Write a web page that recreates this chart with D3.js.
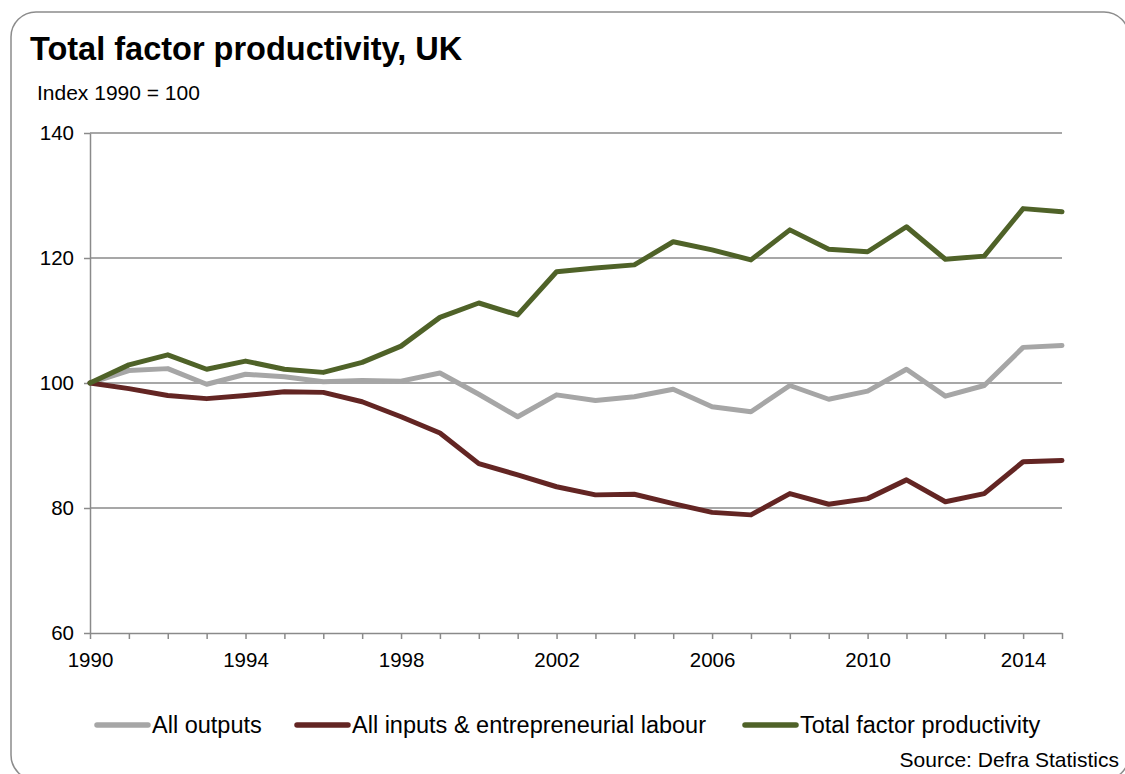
<!DOCTYPE html>
<html>
<head>
<meta charset="utf-8">
<script src="https://cdn.jsdelivr.net/npm/d3@7"></script>
<style>
  body { margin: 0; background: #fff; }
  svg { display: block; font-family: "Liberation Sans", Arial, sans-serif; }
</style>
</head>
<body>
<div id="chart"></div>
<script>
// Data (index, 1990 = 100)
var years = d3.range(1990, 2016);
var allOutputs = [100, 102.0, 102.3, 99.8, 101.4, 101.0, 100.2, 100.4, 100.3, 101.6,
  98.2, 94.6, 98.1, 97.2, 97.8, 99.0, 96.2, 95.4, 99.6, 97.4,
  98.7, 102.2, 97.9, 99.6, 105.7, 106.0];
var allInputs = [100, 99.1, 98.0, 97.5, 98.0, 98.6, 98.5, 97.0, 94.6, 92.0,
  87.1, 85.3, 83.4, 82.1, 82.2, 80.7, 79.3, 78.9, 82.3, 80.6,
  81.5, 84.5, 81.0, 82.3, 87.4, 87.6];
var tfp = [100, 102.9, 104.5, 102.2, 103.5, 102.2, 101.7, 103.3, 105.9, 110.5,
  112.8, 110.9, 117.8, 118.4, 118.9, 122.6, 121.3, 119.7, 124.5, 121.4,
  121.0, 125.0, 119.8, 120.3, 127.9, 127.4];

var seriesNames = ["All outputs", "All inputs & entrepreneurial labour", "Total factor productivity"];
var seriesColors = ["#a6a6a6", "#632523", "#4f6228"];
var yTicks = [60, 80, 100, 120, 140];
var xLabelYears = [1990, 1994, 1998, 2002, 2006, 2010, 2014];

// Page size
var width = 1125;
var height = 774;

// Plot area
var plotLeft = 90;
var plotRight = 1062;
var plotTop = 133;
var plotBottom = 633;

var axisColor = "#8a8a8a";

var svg = d3.select("#chart")
  .append("svg")
  .attr("width", width)
  .attr("height", height);

// Rounded frame, runs off the right and bottom edge
svg.append("rect")
  .attr("x", 11)
  .attr("y", 12)
  .attr("width", 1118)
  .attr("height", 768)
  .attr("rx", 25)
  .attr("ry", 25)
  .attr("fill", "none")
  .attr("stroke", "#8c8c8c")
  .attr("stroke-width", 1.5);

// Titles
svg.append("text")
  .attr("x", 30)
  .attr("y", 60)
  .attr("font-size", 32.5)
  .attr("font-weight", "bold")
  .attr("fill", "#000")
  .text("Total factor productivity, UK");

svg.append("text")
  .attr("x", 37)
  .attr("y", 100)
  .attr("font-size", 21)
  .attr("fill", "#000")
  .text("Index 1990 = 100");

var x = d3.scaleLinear().domain([1990, 2015]).range([plotLeft, plotRight]);
var y = d3.scaleLinear().domain([60, 140]).range([plotBottom, plotTop]);

// Gridlines
svg.append("g")
  .attr("class", "grid")
  .selectAll("line")
  .data(yTicks.filter(function (d) { return d > 60; }))
  .enter()
  .append("line")
  .attr("x1", plotLeft)
  .attr("x2", plotRight)
  .attr("y1", function (d) { return y(d); })
  .attr("y2", function (d) { return y(d); })
  .attr("stroke", axisColor)
  .attr("stroke-width", 1.5);

// Y axis
var yAxis = svg.append("g")
  .attr("transform", "translate(" + plotLeft + ",0)")
  .call(d3.axisLeft(y).tickValues(yTicks).tickSize(6).tickPadding(10).tickSizeOuter(0));

// X axis
var xAxis = svg.append("g")
  .attr("transform", "translate(0," + plotBottom + ")")
  .call(d3.axisBottom(x)
    .tickValues(years)
    .tickSize(6)
    .tickSizeOuter(0)
    .tickFormat(function (d) { return xLabelYears.indexOf(d) >= 0 ? d : ""; }));

[yAxis, xAxis].forEach(function (ax) {
  ax.select(".domain").attr("stroke", axisColor).attr("stroke-width", 1.5);
  ax.selectAll(".tick line").attr("stroke", axisColor).attr("stroke-width", 1.5);
  ax.selectAll("text")
    .attr("font-size", 20.5)
    .attr("font-family", "'Liberation Sans', Arial, sans-serif")
    .attr("fill", "#000");
});

xAxis.selectAll("text").attr("y", 34).attr("dy", null);

// Lines
var allSeries = [allOutputs, allInputs, tfp];

var line = d3.line()
  .x(function (d, i) { return x(years[i]); })
  .y(function (d) { return y(d); });

svg.append("g")
  .selectAll("path")
  .data(allSeries)
  .enter()
  .append("path")
  .attr("d", line)
  .attr("fill", "none")
  .attr("stroke", function (d, i) { return seriesColors[i]; })
  .attr("stroke-width", 5)
  .attr("stroke-linejoin", "round")
  .attr("stroke-linecap", "round");

// Legend
var legendX = [97, 297, 745];
var legendY = 725;

var legend = svg.append("g")
  .selectAll("g")
  .data(seriesNames)
  .enter()
  .append("g")
  .attr("transform", function (d, i) { return "translate(" + legendX[i] + "," + legendY + ")"; });

legend.append("line")
  .attr("x1", 0)
  .attr("x2", 51)
  .attr("stroke", function (d, i) { return seriesColors[i]; })
  .attr("stroke-width", 5.5)
  .attr("stroke-linecap", "round");

legend.append("text")
  .attr("x", 55)
  .attr("y", 8)
  .attr("font-size", 23.5)
  .attr("fill", "#000")
  .text(function (d) { return d; });

// Source
svg.append("text")
  .attr("x", 1119)
  .attr("y", 767)
  .attr("text-anchor", "end")
  .attr("font-size", 21)
  .attr("fill", "#000")
  .text("Source: Defra Statistics");
</script>
</body>
</html>
